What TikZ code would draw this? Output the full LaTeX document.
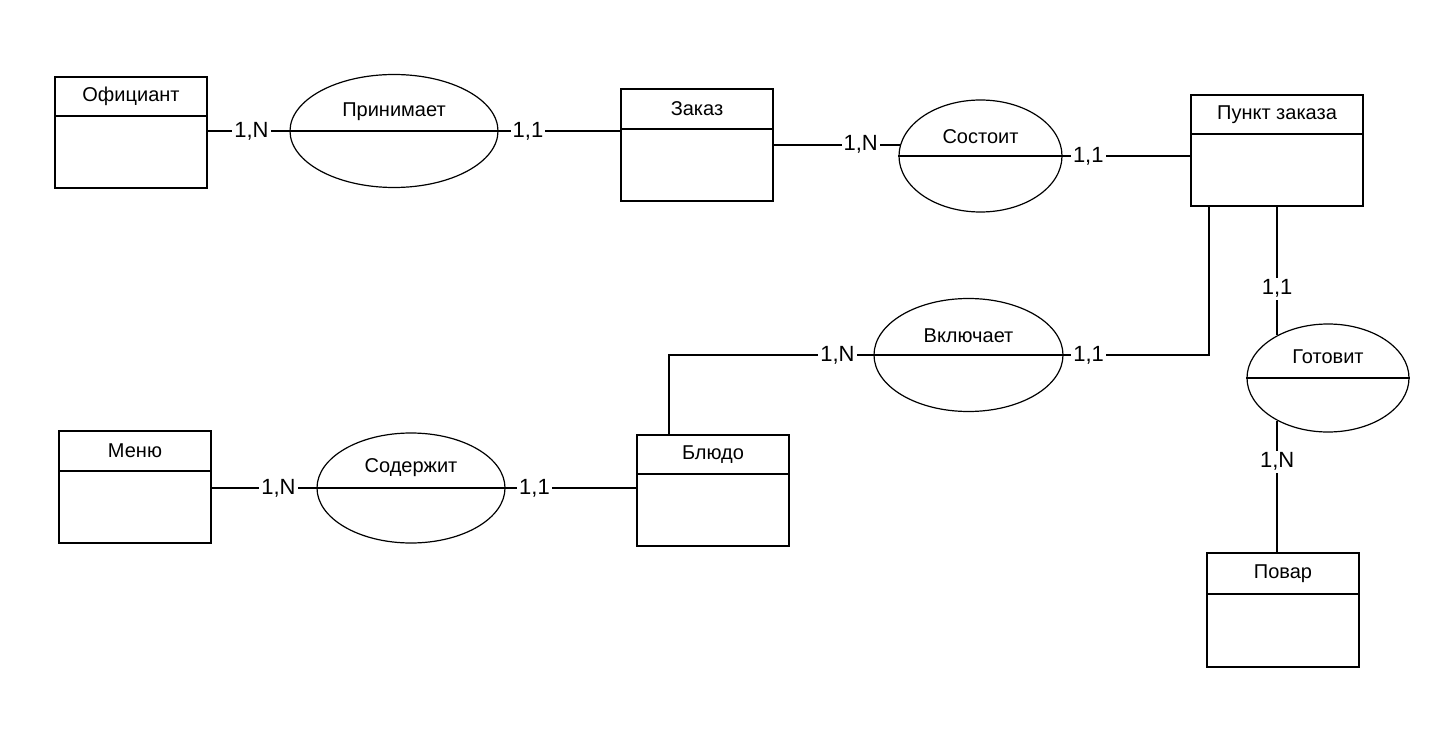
\documentclass[tikz,border=0pt]{standalone}
\usepackage{fontspec}
\setmainfont{Liberation Sans}
\usetikzlibrary{positioning, shapes.geometric}

\begin{document}
\begin{tikzpicture}[
	x=0.5pt, y=-0.5pt,
	enthead/.style={
		draw, line width=1pt, outer sep=0pt, anchor=north west, inner sep=0pt,
		minimum width=76pt, minimum height=19.5pt, font=\fontsize{10}{12}\selectfont
	},
	entbody/.style={
		draw, line width=1pt, outer sep=0pt, inner sep=0pt,
		minimum width=76pt, minimum height=36pt
	},
	rel/.style={ellipse, draw, line width=0.6pt, inner sep=0pt},
	reltxt/.style={font=\fontsize{10}{12}\selectfont, inner sep=0pt},
	card/.style={fill=white, inner sep=1pt, font=\fontsize{11}{13}\selectfont},
	conn/.style={line width=1pt}
	]
	\useasboundingbox (0,0) rectangle (1450,754);

	% entities
	\node[enthead] (ofh) at (55,77) {Официант};
	\node[entbody, below=0pt of ofh] (ofb) {};
	\node[enthead, minimum height=20pt] (zkh) at (621,89) {Заказ};
	\node[entbody, below=0pt of zkh] (zkb) {};
	\node[enthead, minimum width=86pt] (pzh) at (1191,95) {Пункт заказа};
	\node[entbody, minimum width=86pt, below=0pt of pzh] (pzb) {};
	\node[enthead, minimum height=20pt] (mnh) at (59,431) {Меню};
	\node[entbody, below=0pt of mnh] (mnb) {};
	\node[enthead] (blh) at (637,435) {Блюдо};
	\node[entbody, below=0pt of blh] (blb) {};
	\node[enthead, minimum height=20.5pt] (pvh) at (1207,553) {Повар};
	\node[entbody, minimum height=36.5pt, below=0pt of pvh] (pvb) {};

	% relationships
	\node[rel, minimum width=104pt, minimum height=56.5pt] (prin) at (394,131) {};
	\node[rel, minimum width=81.5pt, minimum height=56pt] (sost) at (980.5,156) {};
	\node[rel, minimum width=94.5pt, minimum height=56.5pt] (vkl) at (968.5,355) {};
	\node[rel, minimum width=81pt, minimum height=54pt] (gotv) at (1328,378) {};
	\node[rel, minimum width=94pt, minimum height=55pt] (sodr) at (411,488) {};
	\foreach \r in {prin,sost,vkl,gotv,sodr}
		\draw[conn] (\r.west) -- (\r.east);

	\node[reltxt] at ([yshift=9.5pt]prin.center) {Принимает};
	\node[reltxt] at ([yshift=9.5pt]sost.center) {Состоит};
	\node[reltxt] at ([yshift=9.5pt]vkl.center) {Включает};
	\node[reltxt] at ([yshift=10.5pt]gotv.center) {Готовит};
	\node[reltxt] at ([yshift=10pt]sodr.center) {Содержит};

	% links
	\draw[conn] (prin.west) -- node[card, pos=0.46] {1,N} (prin.west -| ofb.east);
	\draw[conn] (prin.east) -- node[card, pos=0.24] {1,1} (prin.east -| zkb.west);
	\draw[conn] (sost.172) -- node[card, pos=0.31] {1,N} (sost.172 -| zkb.east);
	\draw[conn] (sost.east) -- node[card, pos=0.2] {1,1} (sost.east -| pzb.west);
	\draw[conn] (vkl.east) -| node[card, pos=0.086] {1,1} ([xshift=9pt]pzb.south west);
	\draw[conn] (vkl.west) -| node[card, pos=0.088] {1,N} ([xshift=16pt]blh.north west);
	\draw[conn] (gotv.140) -- node[card, pos=0.36] {1,1} (gotv.140 |- pzb.south);
	\draw[conn] (gotv.220) -- node[card, pos=0.31] {1,N} (gotv.220 |- pvh.north);
	\draw[conn] (sodr.west) -- node[card, pos=0.36] {1,N} (sodr.west -| mnb.east);
	\draw[conn] (sodr.east) -- node[card, pos=0.22] {1,1} (sodr.east -| blb.west);
\end{tikzpicture}
\end{document}
